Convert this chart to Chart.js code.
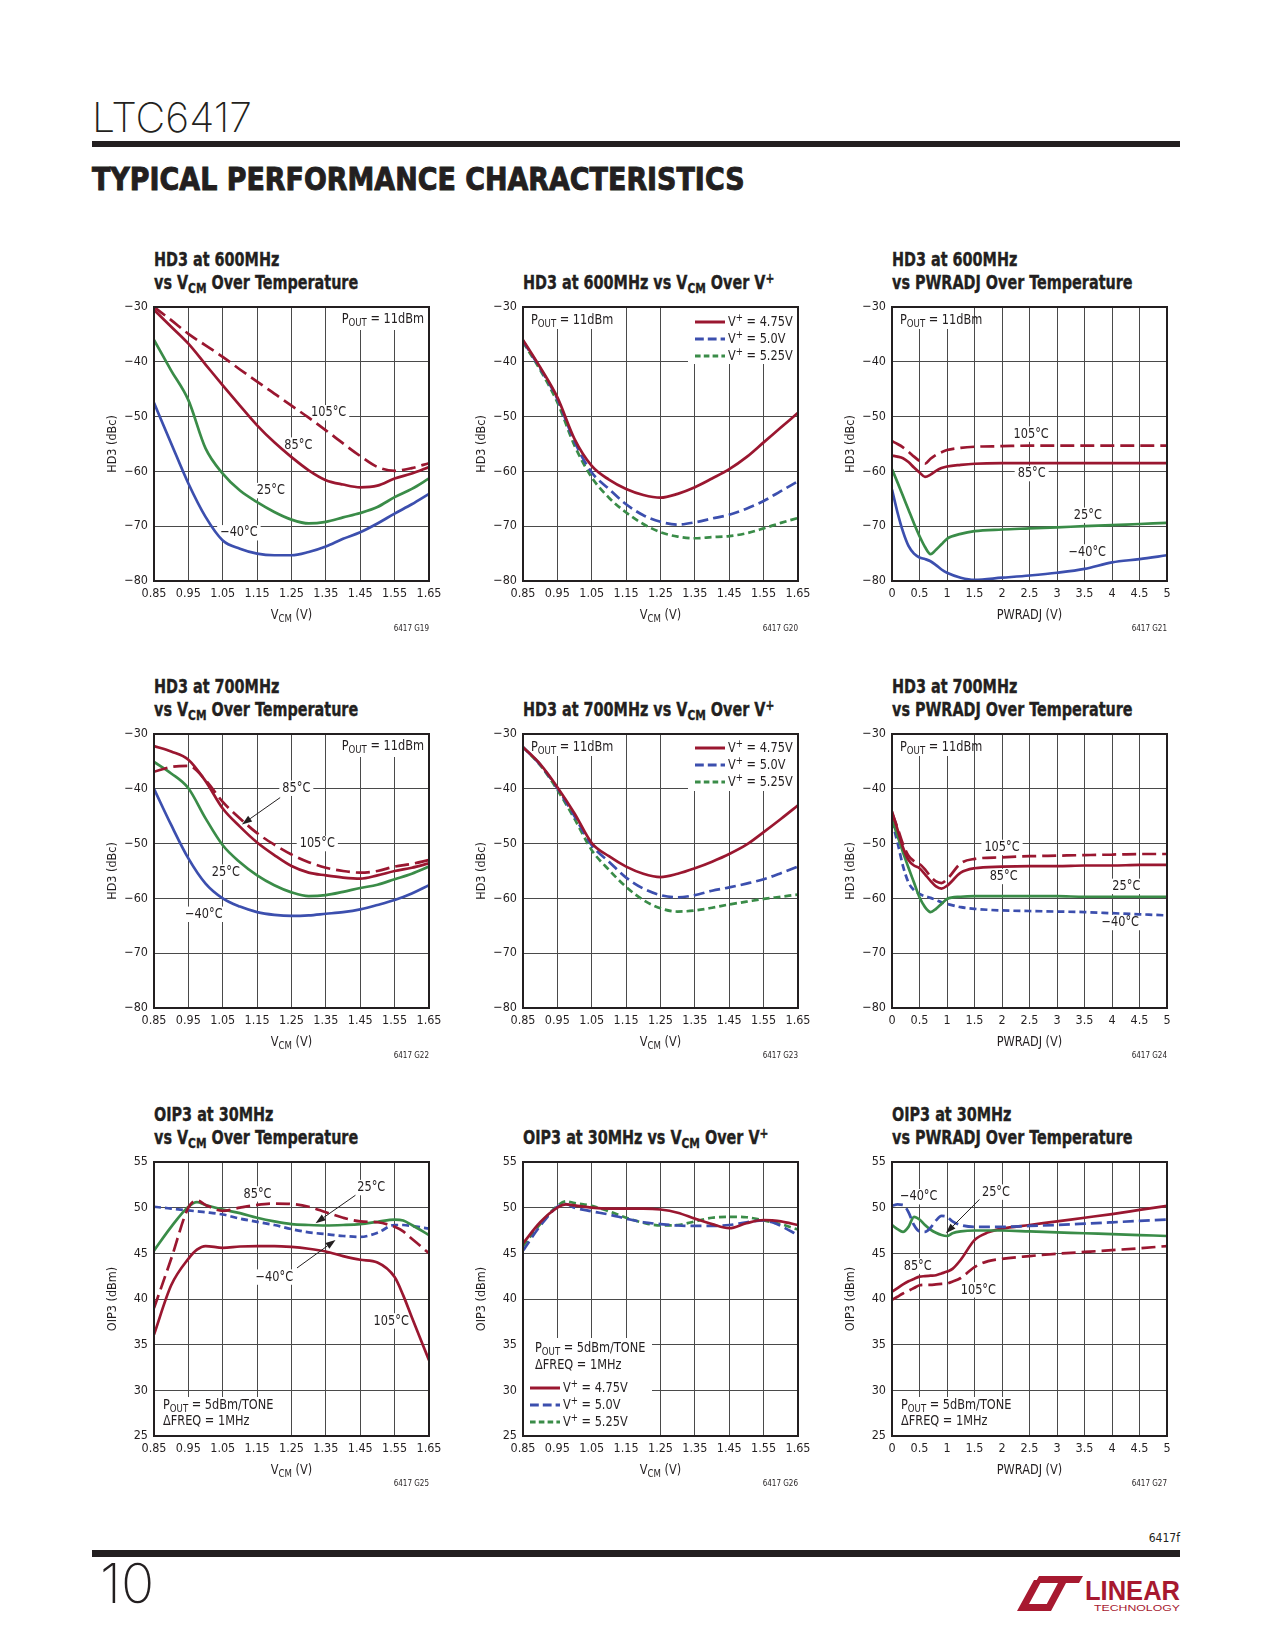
<!DOCTYPE html>
<html>
<head>
<meta charset="utf-8">
<script src="https://cdn.jsdelivr.net/npm/chart.js@4.4.1/dist/chart.umd.min.js"></script>
<style>
  html, body { margin: 0; padding: 0; background: #fff; }
  #page {
    position: relative; width: 1275px; height: 1650px; overflow: hidden; background: #fff;
    font-family: "Liberation Sans Narrow", "Arial Narrow", "DejaVu Sans Condensed", sans-serif;
    color: #231f20;
  }
  .abs { position: absolute; white-space: nowrap; }
  .part { left: 92px; top: 97px; font-family: Inter, "DejaVu Sans", sans-serif; font-weight: 200; font-size: 41px; line-height: 1; }
  .bar { left: 92px; width: 1088px; background: #231f20; }
  .section { left: 92px; top: 163px; font-weight: bold; font-size: 32px; line-height: 1; -webkit-text-stroke: 0.9px #231f20; transform: scaleX(0.935); transform-origin: 0 0; }
  .ctitle { font-weight: bold; font-size: 19.5px; line-height: 22.6px; -webkit-text-stroke: 0.35px #231f20; transform: scaleX(0.82); transform-origin: 0 0; }
  .ctitle sub { font-size: 0.74em; vertical-align: -0.3em; line-height: 0; }
  .ctitle sup { font-size: 0.74em; vertical-align: 0.45em; line-height: 0; }
  .pageno { left: 100px; top: 1556px; font-family: Inter, "DejaVu Sans", sans-serif; font-weight: 200; font-size: 55px; line-height: 1; }
  .docid { right: 95px; top: 1532px; font-size: 12px; line-height: 1; }
  canvas { position: absolute; }
</style>
</head>
<body>
<div id="page">
  <div class="abs part">LTC6417</div>
  <div class="abs bar" style="top:141px;height:6px"></div>
  <div class="abs section">TYPICAL PERFORMANCE CHARACTERISTICS</div>
  <div class="abs docid">6417f</div>
  <div class="abs bar" style="top:1550px;height:7px"></div>
  <div class="abs pageno">10</div>
  <svg class="abs" style="left:1015px;top:1574px" width="166" height="40" viewBox="0 0 166 40">
    <g fill="#a71930">
      <path d="M2 37 L32 37 L36 30 L14 30 L27 6 L19 6 Z"/>
      <path d="M24 2 L68 2 L64 9 L51 9 L36 37 L28 37 L43 9 L20 9 Z"/>
    </g>
    <text x="70" y="26" fill="#a71930" font-family="Liberation Sans Narrow, sans-serif" font-weight="bold" font-size="27" textLength="95" lengthAdjust="spacingAndGlyphs">LINEAR</text>
    <text x="79" y="37" fill="#a71930" font-family="Liberation Sans, sans-serif" font-size="9" textLength="86" lengthAdjust="spacingAndGlyphs">TECHNOLOGY</text>
  </svg>
</div>
<script>
// axes
const vcmTicks = [0.85, 0.95, 1.05, 1.15, 1.25, 1.35, 1.45, 1.55, 1.65];
const vcmTickLabels = ["0.85", "0.95", "1.05", "1.15", "1.25", "1.35", "1.45", "1.55", "1.65"];
const pwrTicks = [0, 0.5, 1, 1.5, 2, 2.5, 3, 3.5, 4, 4.5, 5];
const pwrTickLabels = ["0", "0.5", "1", "1.5", "2", "2.5", "3", "3.5", "4", "4.5", "5"];
const hd3Ticks = [-80, -70, -60, -50, -40, -30];
const hd3TickLabels = ["\u221280", "\u221270", "\u221260", "\u221250", "\u221240", "\u221230"];
const oipTicks = [25, 30, 35, 40, 45, 50, 55];
const oipTickLabels = ["25", "30", "35", "40", "45", "50", "55"];

// sample positions
const vcmX = [0.85, 0.90, 0.95, 1.00, 1.05, 1.10, 1.15, 1.20, 1.25, 1.30, 1.35, 1.40, 1.45, 1.50, 1.55, 1.60, 1.65];
const pwrX = [0, 0.1, 0.2, 0.3, 0.4, 0.5, 0.6, 0.7, 0.8, 0.9, 1.0, 1.25, 1.5, 2, 2.5, 3, 3.5, 4, 4.5, 5];
const oipVcmX = [0.85, 0.90, 0.95, 0.975, 1.00, 1.05, 1.10, 1.15, 1.20, 1.25, 1.30, 1.35, 1.40, 1.45, 1.50, 1.55, 1.575, 1.60, 1.65];
const oipPwrX = [0, 0.1, 0.2, 0.3, 0.4, 0.5, 0.6, 0.7, 0.8, 0.9, 1.0, 1.1, 1.25, 1.5, 1.75, 2, 2.5, 3, 3.5, 4, 4.5, 5];

// G19: HD3 600MHz vs VCM over temperature
const g19_105 = [-30, -32.4, -34.9, -37.0, -39.1, -41.4, -43.6, -45.8, -48.0, -50.2, -52.5, -54.9, -57.2, -59.2, -59.9, -59.4, -58.5];
const g19_85 = [-30.5, -33.6, -36.7, -40.5, -44.3, -48.0, -51.6, -54.7, -57.4, -59.8, -61.6, -62.4, -62.9, -62.6, -61.3, -60.4, -59.2];
const g19_25 = [-36, -41.6, -47, -55.8, -60.4, -63.5, -65.6, -67.4, -68.8, -69.5, -69.2, -68.4, -67.6, -66.5, -64.7, -63.2, -61.3];
const g19_m40 = [-47.5, -54.9, -62.2, -68.3, -72.6, -74.1, -75.0, -75.3, -75.3, -74.7, -73.7, -72.3, -71.1, -69.5, -67.7, -66.0, -64.1];

// G20: HD3 600MHz vs VCM over V+
const g20_475 = [-36, -41, -46.5, -54.1, -59, -61.5, -63.2, -64.3, -64.8, -64.1, -62.9, -61.3, -59.6, -57.4, -54.7, -52.0, -49.3];
const g20_500 = [-36.2, -41.2, -46.8, -54.6, -60.2, -63.2, -66, -68, -69.2, -69.7, -69.3, -68.6, -67.9, -66.8, -65.4, -63.6, -61.8];
const g20_525 = [-36.4, -41.5, -47.4, -55.3, -61.1, -64.8, -67.5, -69.6, -71.1, -71.9, -72.2, -72.0, -71.8, -71.3, -70.4, -69.4, -68.5];

// G21: HD3 600MHz vs PWRADJ
const g21_105 = [-54.5, -55.0, -55.6, -56.4, -57.3, -58.1, -58.6, -57.7, -57.0, -56.5, -56.1, -55.7, -55.5, -55.4, -55.3, -55.3, -55.3, -55.3, -55.3, -55.3];
const g21_85 = [-57.1, -57.3, -57.6, -58.3, -59.3, -60.2, -61.0, -60.6, -59.9, -59.4, -59.1, -58.8, -58.6, -58.5, -58.5, -58.5, -58.5, -58.5, -58.5, -58.5];
const g21_25 = [-59.6, -62.0, -64.5, -67.0, -69.5, -71.8, -73.8, -75.1, -74.3, -73.3, -72.3, -71.4, -70.9, -70.6, -70.4, -70.2, -70.0, -69.8, -69.6, -69.4];
const g21_m40 = [-63.3, -67.5, -71.0, -73.6, -75.0, -75.7, -76.0, -76.4, -77.1, -77.9, -78.5, -79.4, -79.8, -79.4, -79.0, -78.5, -77.8, -76.6, -76.0, -75.3];

// G22: HD3 700MHz vs VCM over temperature
const g22_85 = [-32.2, -33.2, -34.7, -38.6, -43.6, -46.9, -49.8, -52.1, -54.1, -55.3, -55.8, -56.2, -56.4, -55.8, -55.0, -54.4, -53.6];
const g22_105 = [-36.9, -36.0, -35.8, -38.4, -42.4, -45.4, -48.1, -50.2, -52.0, -53.4, -54.4, -55.0, -55.3, -55.0, -54.2, -53.7, -53.0];
const g22_25 = [-35.1, -37.2, -39.9, -45.4, -50.3, -53.4, -55.8, -57.6, -58.9, -59.6, -59.4, -58.8, -58.1, -57.5, -56.5, -55.5, -54.2];
const g22_m40 = [-40.0, -46.6, -52.7, -57.3, -60.0, -61.5, -62.5, -63.0, -63.2, -63.1, -62.8, -62.5, -62.0, -61.2, -60.3, -59.1, -57.6];

// G23: HD3 700MHz vs VCM over V+
const g23_475 = [-32.4, -35.5, -39.7, -44.5, -49.9, -52.3, -54.2, -55.5, -56.1, -55.5, -54.5, -53.3, -51.9, -50.2, -47.9, -45.5, -43.0];
const g23_500 = [-32.4, -35.6, -39.9, -45.0, -50.3, -53.3, -56.2, -58.2, -59.4, -59.8, -59.4, -58.6, -58.0, -57.3, -56.5, -55.4, -54.2];
const g23_525 = [-32.4, -35.7, -40.2, -45.5, -51.2, -54.8, -57.9, -60.3, -61.8, -62.4, -62.2, -61.7, -61.1, -60.6, -60.1, -59.7, -59.3];

// G24: HD3 700MHz vs PWRADJ
const g24_105 = [-44.4, -47.1, -50.1, -52.2, -53.2, -53.7, -54.7, -56.0, -56.9, -57.2, -56.5, -53.6, -52.8, -52.5, -52.3, -52.2, -52.1, -52.0, -51.9, -51.9];
const g24_85 = [-44.1, -47.4, -50.7, -53.0, -54.0, -54.5, -55.6, -56.8, -57.8, -58.2, -57.7, -55.3, -54.5, -54.2, -54.1, -54.1, -54.0, -54.0, -53.9, -53.9];
const g24_25 = [-45.6, -48.6, -51.6, -54.4, -57.1, -59.8, -61.6, -62.5, -61.9, -61.0, -60.1, -59.7, -59.6, -59.6, -59.6, -59.6, -59.7, -59.7, -59.7, -59.7];
const g24_m40 = [-45.9, -49.8, -54.1, -57.1, -58.5, -59.2, -59.6, -59.9, -60.3, -60.7, -61.0, -61.6, -61.9, -62.2, -62.3, -62.4, -62.5, -62.7, -62.9, -63.1];

// G25: OIP3 30MHz vs VCM over temperature
const g25_dash = [39.0, 44.4, 50.0, 50.8, 50.3, 49.65, 50.0, 50.3, 50.45, 50.4, 50.1, 49.5, 48.9, 48.5, 48.4, 47.9, 47.4, 46.6, 45.0];
const g25_25 = [45.3, 47.9, 50.1, 50.6, 50.3, 49.8, 49.4, 48.9, 48.5, 48.2, 48.1, 48.05, 48.1, 48.2, 48.45, 48.7, 48.6, 48.1, 47.0];
const g25_m40 = [50.1, 49.9, 49.7, 49.6, 49.5, 49.25, 48.8, 48.45, 48.1, 47.65, 47.3, 47.1, 46.9, 46.8, 47.25, 48.1, 48.1, 48.0, 47.7];
const g25_solid = [36.1, 41.5, 44.4, 45.4, 45.8, 45.6, 45.75, 45.8, 45.8, 45.7, 45.5, 45.2, 44.7, 44.3, 44.0, 42.4, 40.4, 38.0, 33.3];

// G26: OIP3 30MHz vs VCM over V+
const g26_475 = [46.1, 48.4, 50.0, 50.35, 50.25, 50.0, 49.9, 49.9, 49.9, 49.8, 49.45, 48.8, 48.2, 47.75, 48.3, 48.65, 48.6, 48.5, 48.1];
const g26_500 = [45.3, 48.0, 50.1, 50.4, 50.0, 49.6, 49.25, 48.8, 48.4, 48.2, 48.05, 48.0, 48.0, 48.1, 48.4, 48.6, 48.4, 48.0, 47.0];
const g26_525 = [45.8, 48.2, 50.2, 50.7, 50.5, 50.2, 49.6, 48.9, 48.35, 48.05, 48.1, 48.5, 48.9, 49.0, 48.95, 48.6, 48.4, 48.2, 47.6];

// G27: OIP3 30MHz vs PWRADJ
const g27_m40 = [50.2, 50.35, 50.3, 49.5, 48.1, 47.4, 47.35, 47.8, 48.6, 49.1, 49.0, 48.5, 48.1, 47.9, 47.9, 47.9, 48.0, 48.1, 48.25, 48.4, 48.55, 48.7];
const g27_25 = [48.1, 47.65, 47.35, 47.9, 49.0, 48.7, 48.1, 47.6, 47.25, 47.0, 46.9, 47.2, 47.4, 47.5, 47.5, 47.5, 47.4, 47.3, 47.2, 47.1, 47.0, 46.9];
const g27_85 = [40.8, 41.2, 41.6, 41.95, 42.2, 42.45, 42.5, 42.55, 42.6, 42.8, 43.0, 43.3, 44.3, 46.45, 47.3, 47.7, 48.1, 48.5, 48.9, 49.3, 49.75, 50.2];
const g27_105 = [39.9, 40.25, 40.6, 40.9, 41.2, 41.5, 41.55, 41.55, 41.6, 41.65, 41.7, 41.9, 42.3, 43.5, 44.15, 44.4, 44.7, 44.95, 45.15, 45.35, 45.55, 45.8];

// STYLE
const FONT = '"Liberation Sans Narrow", "Arial Narrow", "DejaVu Sans Condensed", sans-serif';
const INK = "#231f20";
const GRID = "#4a4a4a";
const RED = "#9a1730";
const BLUE = "#3c4fae";
const GREEN = "#3a8c48";
const LONG = [14, 6];
const MED = [11, 5];
const SHORT = [7, 4];
const NOTE = 14;
const SQUEEZE = 0.9; // annotation text is condensed in the original

const PLOT_W = 275, PLOT_H = 274;
const PAD_L = 72, PAD_T = 14, PAD_R = 26, PAD_B = 62;
const colLeft = [154, 523, 892];
const rowTop = [307, 734, 1162];

Chart.defaults.font.family = FONT;
Chart.defaults.color = INK;

const page = document.getElementById("page");

// "P_{OUT}" -> subscript, "V^{+}" -> superscript
function richParts(str) {
  const out = [];
  const re = /([_^])\{([^}]*)\}/g;
  let last = 0, m;
  while ((m = re.exec(str))) {
    if (m.index > last) out.push({ t: str.slice(last, m.index), k: "" });
    out.push({ t: m[2], k: m[1] });
    last = re.lastIndex;
  }
  if (last < str.length) out.push({ t: str.slice(last), k: "" });
  return out;
}

function drawRich(ctx, str, x, y, align, size, bg) {
  const parts = richParts(str);
  const fontFor = (k) => (k ? size * 0.76 : size) + "px " + FONT;
  let w = 0;
  parts.forEach((p) => {
    ctx.font = fontFor(p.k);
    p.w = ctx.measureText(p.t).width * SQUEEZE;
    w += p.w;
  });
  let sx = align === "center" ? x - w / 2 : align === "right" ? x - w : x;
  if (bg) {
    ctx.fillStyle = "#fff";
    ctx.fillRect(sx - 3, y - size * 0.55, w + 6, size * 1.1);
  }
  ctx.fillStyle = INK;
  ctx.textAlign = "left";
  ctx.textBaseline = "middle";
  parts.forEach((p) => {
    ctx.font = fontFor(p.k);
    const dy = p.k === "_" ? size * 0.3 : p.k === "^" ? -size * 0.3 : 0;
    ctx.save();
    ctx.translate(sx, y + dy);
    ctx.scale(SQUEEZE, 1);
    ctx.fillText(p.t, 0, 0);
    ctx.restore();
    sx += p.w;
  });
}

function drawArrow(ctx, x0, y0, x1, y1) {
  const ang = Math.atan2(y1 - y0, x1 - x0);
  const L = 10, W = 3.5;
  const bx = x1 - L * Math.cos(ang), by = y1 - L * Math.sin(ang);
  ctx.strokeStyle = INK;
  ctx.fillStyle = INK;
  ctx.lineWidth = 1;
  ctx.beginPath();
  ctx.moveTo(x0, y0);
  ctx.lineTo(bx, by);
  ctx.stroke();
  ctx.beginPath();
  ctx.moveTo(x1, y1);
  ctx.lineTo(bx + W * Math.sin(ang), by - W * Math.cos(ang));
  ctx.lineTo(bx - W * Math.sin(ang), by + W * Math.cos(ang));
  ctx.closePath();
  ctx.fill();
}

function decor(cfg) {
  return {
    id: "decor",
    beforeDatasetsDraw(chart) {
      const { ctx, chartArea: a, scales } = chart;
      ctx.save();
      ctx.fillStyle = "#fff";
      (cfg.boxes || []).forEach((b) => ctx.fillRect(a.left + b[0], a.top + b[1], b[2], b[3]));
      (cfg.notes || []).forEach((n) =>
        drawRich(ctx, n[2], scales.x.getPixelForValue(n[0]), scales.y.getPixelForValue(n[1]), "center", NOTE, true));
      (cfg.texts || []).forEach((t) => drawRich(ctx, t[2], a.left + t[0], a.top + t[1], t[3] || "left", NOTE, false));
      (cfg.legend || []).forEach((l, i) => {
        const ds = chart.data.datasets[i];
        ctx.strokeStyle = ds.borderColor;
        ctx.lineWidth = 3;
        ctx.setLineDash(ds.borderDash.length ? [ds.borderDash[0] * 0.8, ds.borderDash[1] * 0.8] : []);
        ctx.beginPath();
        ctx.moveTo(a.left + l[0], a.top + l[1]);
        ctx.lineTo(a.left + l[0] + 30, a.top + l[1]);
        ctx.stroke();
        ctx.setLineDash([]);
        drawRich(ctx, l[2], a.left + l[0] + 33, a.top + l[1], "left", NOTE, false);
      });
      ctx.restore();
    },
    afterDatasetsDraw(chart) {
      const { ctx, chartArea: a, scales } = chart;
      ctx.save();
      (cfg.arrows || []).forEach((r) =>
        drawArrow(ctx, scales.x.getPixelForValue(r[0]), scales.y.getPixelForValue(r[1]),
          scales.x.getPixelForValue(r[2]), scales.y.getPixelForValue(r[3])));
      ctx.strokeStyle = INK;
      ctx.lineWidth = 2;
      ctx.strokeRect(a.left, a.top, a.right - a.left, a.bottom - a.top);
      ctx.restore();
    },
    afterDraw(chart) {
      const { ctx, chartArea: a } = chart;
      ctx.save();
      // y title
      ctx.translate(a.left - 41, (a.top + a.bottom) / 2);
      ctx.rotate(-Math.PI / 2);
      ctx.font = "12.5px " + FONT;
      ctx.fillStyle = INK;
      ctx.textAlign = "center";
      ctx.textBaseline = "middle";
      ctx.fillText(cfg.yTitle, 0, 0);
      ctx.restore();
      ctx.save();
      drawRich(ctx, cfg.xTitle, (a.left + a.right) / 2, a.bottom + 34, "center", 14, false);
      ctx.font = "8px " + FONT;
      ctx.fillStyle = INK;
      ctx.textAlign = "right";
      ctx.textBaseline = "middle";
      ctx.fillText(cfg.fig, a.right, a.bottom + 48);
      ctx.restore();
    },
  };
}

function makeChart(cfg) {
  const left = colLeft[cfg.col], top = rowTop[cfg.row];
  const title = document.createElement("div");
  title.className = "abs ctitle";
  title.style.left = left + "px";
  title.style.top = top - (cfg.title.includes("<br>") ? 58 : 35) + "px";
  title.innerHTML = cfg.title;
  page.appendChild(title);

  const cv = document.createElement("canvas");
  cv.width = PAD_L + PLOT_W + PAD_R;
  cv.height = PAD_T + PLOT_H + PAD_B;
  cv.style.left = left - PAD_L + "px";
  cv.style.top = top - PAD_T + "px";
  page.appendChild(cv);

  const xAxis = cfg.xKind === "vcm"
    ? { ticks: vcmTicks, labels: vcmTickLabels, min: 0.85, max: 1.65 }
    : { ticks: pwrTicks, labels: pwrTickLabels, min: 0, max: 5 };
  const yAxis = cfg.yKind === "hd3"
    ? { ticks: hd3Ticks, labels: hd3TickLabels, min: -80, max: -30 }
    : { ticks: oipTicks, labels: oipTickLabels, min: 25, max: 55 };

  const axis = (ax, fit) => ({
    type: "linear",
    min: ax.min,
    max: ax.max,
    afterBuildTicks: (sc) => { sc.ticks = ax.ticks.map((v) => ({ value: v })); },
    afterFit: fit,
    grid: { color: GRID, lineWidth: 1, drawTicks: false },
    border: { display: false },
    ticks: {
      autoSkip: false,
      maxRotation: 0,
      font: { size: 12.5 },
      color: INK,
      callback: (v) => ax.labels[ax.ticks.indexOf(v)],
    },
  });
  const xs = axis(xAxis, (sc) => { sc.height = PAD_B; });
  xs.ticks.padding = 5;
  const ys = axis(yAxis, (sc) => { sc.width = PAD_L; });
  ys.ticks.padding = 6;

  new Chart(cv, {
    type: "line",
    data: {
      datasets: cfg.series.map((s) => ({
        data: s.x.map((x, i) => ({ x, y: s.y[i] })),
        borderColor: s.color,
        borderDash: s.dash || [],
        borderWidth: 2.7,
        pointRadius: 0,
        fill: false,
        cubicInterpolationMode: "monotone",
      })),
    },
    options: {
      responsive: false,
      animation: false,
      layout: { padding: { top: PAD_T, right: PAD_R, left: 0, bottom: 0 } },
      plugins: { legend: { display: false }, tooltip: { enabled: false } },
      scales: { x: xs, y: ys },
    },
    plugins: [decor(cfg)],
  });
}

const POUT11 = "P_{OUT} = 11dBm";

makeChart({
  col: 0, row: 0, xKind: "vcm", yKind: "hd3", fig: "6417 G19",
  title: "HD3 at 600MHz<br>vs V<sub>CM</sub> Over Temperature",
  yTitle: "HD3 (dBc)", xTitle: "V_{CM} (V)",
  series: [
    { x: vcmX, y: g19_105, color: RED, dash: LONG },
    { x: vcmX, y: g19_85, color: RED },
    { x: vcmX, y: g19_25, color: GREEN },
    { x: vcmX, y: g19_m40, color: BLUE },
  ],
  boxes: [[181, 1, 93, 22]],
  texts: [[270, 12, POUT11, "right"]],
  notes: [[1.358, -49.3, "105°C"], [1.27, -55.2, "85°C"], [1.19, -63.5, "25°C"], [1.097, -71.2, "\u221240°C"]],
});

makeChart({
  col: 1, row: 0, xKind: "vcm", yKind: "hd3", fig: "6417 G20",
  title: "HD3 at 600MHz vs V<sub>CM</sub> Over V<sup>+</sup>",
  yTitle: "HD3 (dBc)", xTitle: "V_{CM} (V)",
  series: [
    { x: vcmX, y: g20_475, color: RED },
    { x: vcmX, y: g20_500, color: BLUE, dash: MED },
    { x: vcmX, y: g20_525, color: GREEN, dash: SHORT },
  ],
  boxes: [[1, 1, 94, 21], [165, 1, 109, 56]],
  texts: [[8, 13, POUT11]],
  legend: [[172, 15, "V^{+} = 4.75V"], [172, 32, "V^{+} = 5.0V"], [172, 49, "V^{+} = 5.25V"]],
});

makeChart({
  col: 2, row: 0, xKind: "pwr", yKind: "hd3", fig: "6417 G21",
  title: "HD3 at 600MHz<br>vs PWRADJ Over Temperature",
  yTitle: "HD3 (dBc)", xTitle: "PWRADJ (V)",
  series: [
    { x: pwrX, y: g21_105, color: RED, dash: LONG },
    { x: pwrX, y: g21_85, color: RED },
    { x: pwrX, y: g21_25, color: GREEN },
    { x: pwrX, y: g21_m40, color: BLUE },
  ],
  boxes: [[1, 1, 80, 21]],
  texts: [[8, 13, POUT11]],
  notes: [[2.53, -53.2, "105°C"], [2.54, -60.4, "85°C"], [3.56, -68.0, "25°C"], [3.55, -74.7, "\u221240°C"]],
});

makeChart({
  col: 0, row: 1, xKind: "vcm", yKind: "hd3", fig: "6417 G22",
  title: "HD3 at 700MHz<br>vs V<sub>CM</sub> Over Temperature",
  yTitle: "HD3 (dBc)", xTitle: "V_{CM} (V)",
  series: [
    { x: vcmX, y: g22_105, color: RED, dash: LONG },
    { x: vcmX, y: g22_85, color: RED },
    { x: vcmX, y: g22_25, color: GREEN },
    { x: vcmX, y: g22_m40, color: BLUE },
  ],
  boxes: [[181, 1, 93, 22]],
  texts: [[270, 12, POUT11, "right"]],
  notes: [[1.264, -39.9, "85°C"], [1.325, -50.0, "105°C"], [1.059, -55.2, "25°C"], [0.995, -62.9, "\u221240°C"]],
  arrows: [[1.217, -41.6, 1.106, -46.5]],
});

makeChart({
  col: 1, row: 1, xKind: "vcm", yKind: "hd3", fig: "6417 G23",
  title: "HD3 at 700MHz vs V<sub>CM</sub> Over V<sup>+</sup>",
  yTitle: "HD3 (dBc)", xTitle: "V_{CM} (V)",
  series: [
    { x: vcmX, y: g23_475, color: RED },
    { x: vcmX, y: g23_500, color: BLUE, dash: MED },
    { x: vcmX, y: g23_525, color: GREEN, dash: SHORT },
  ],
  boxes: [[1, 1, 94, 21], [165, 1, 109, 56]],
  texts: [[8, 13, POUT11]],
  legend: [[172, 14, "V^{+} = 4.75V"], [172, 31, "V^{+} = 5.0V"], [172, 48, "V^{+} = 5.25V"]],
});

makeChart({
  col: 2, row: 1, xKind: "pwr", yKind: "hd3", fig: "6417 G24",
  title: "HD3 at 700MHz<br>vs PWRADJ Over Temperature",
  yTitle: "HD3 (dBc)", xTitle: "PWRADJ (V)",
  series: [
    { x: pwrX, y: g24_105, color: RED, dash: LONG },
    { x: pwrX, y: g24_85, color: RED },
    { x: pwrX, y: g24_25, color: GREEN },
    { x: pwrX, y: g24_m40, color: BLUE, dash: SHORT },
  ],
  boxes: [[1, 1, 80, 21]],
  texts: [[8, 13, POUT11]],
  notes: [[2.0, -50.7, "105°C"], [2.03, -56.0, "85°C"], [4.26, -57.8, "25°C"], [4.15, -64.4, "\u221240°C"]],
});

makeChart({
  col: 0, row: 2, xKind: "vcm", yKind: "oip", fig: "6417 G25",
  title: "OIP3 at 30MHz<br>vs V<sub>CM</sub> Over Temperature",
  yTitle: "OIP3 (dBm)", xTitle: "V_{CM} (V)",
  series: [
    { x: oipVcmX, y: g25_dash, color: RED, dash: LONG },
    { x: oipVcmX, y: g25_25, color: GREEN },
    { x: oipVcmX, y: g25_m40, color: BLUE, dash: SHORT },
    { x: oipVcmX, y: g25_solid, color: RED },
  ],
  boxes: [[1, 235, 126, 38]],
  texts: [[9, 243, "P_{OUT} = 5dBm/TONE"], [9, 259, "\u0394FREQ = 1MHz"]],
  notes: [[1.151, 51.5, "85°C"], [1.482, 52.2, "25°C"], [1.2, 42.4, "\u221240°C"], [1.54, 37.6, "105°C"]],
  arrows: [[1.436, 51.36, 1.32, 48.3], [1.266, 43.4, 1.378, 46.45]],
});

makeChart({
  col: 1, row: 2, xKind: "vcm", yKind: "oip", fig: "6417 G26",
  title: "OIP3 at 30MHz vs V<sub>CM</sub> Over V<sup>+</sup>",
  yTitle: "OIP3 (dBm)", xTitle: "V_{CM} (V)",
  series: [
    { x: oipVcmX, y: g26_475, color: RED },
    { x: oipVcmX, y: g26_500, color: BLUE, dash: MED },
    { x: oipVcmX, y: g26_525, color: GREEN, dash: SHORT },
  ],
  boxes: [[1, 176, 128, 97]],
  texts: [[12, 186, "P_{OUT} = 5dBm/TONE"], [12, 203, "\u0394FREQ = 1MHz"]],
  legend: [[7, 226, "V^{+} = 4.75V"], [7, 243, "V^{+} = 5.0V"], [7, 260, "V^{+} = 5.25V"]],
});

makeChart({
  col: 2, row: 2, xKind: "pwr", yKind: "oip", fig: "6417 G27",
  title: "OIP3 at 30MHz<br>vs PWRADJ Over Temperature",
  yTitle: "OIP3 (dBm)", xTitle: "PWRADJ (V)",
  series: [
    { x: oipPwrX, y: g27_m40, color: BLUE, dash: MED },
    { x: oipPwrX, y: g27_25, color: GREEN },
    { x: oipPwrX, y: g27_85, color: RED },
    { x: oipPwrX, y: g27_105, color: RED, dash: LONG },
  ],
  boxes: [[1, 235, 126, 38]],
  texts: [[9, 243, "P_{OUT} = 5dBm/TONE"], [9, 259, "\u0394FREQ = 1MHz"]],
  notes: [[0.485, 51.2, "\u221240°C"], [1.89, 51.7, "25°C"], [0.467, 43.6, "85°C"], [1.57, 41.0, "105°C"]],
  arrows: [[1.59, 50.9, 0.98, 47.2]],
});
</script>
</body>
</html>
